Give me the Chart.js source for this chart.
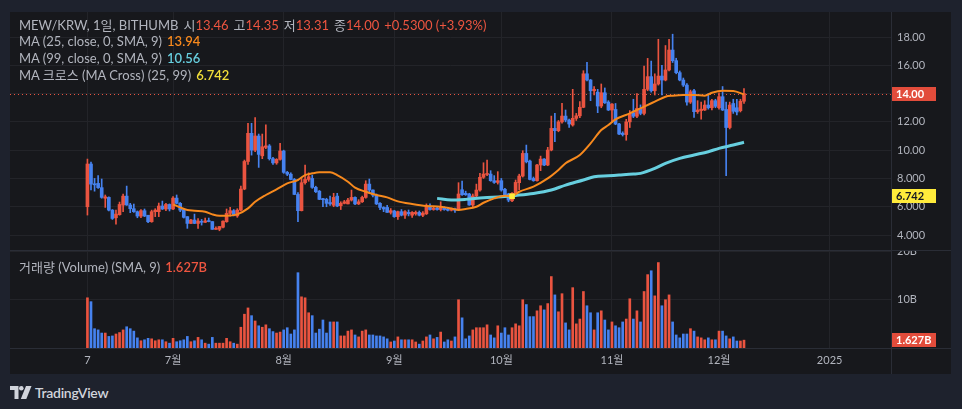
<!DOCTYPE html>
<html lang="ko">
<head>
<meta charset="UTF-8">
<title>MEW/KRW, 1일, BITHUMB</title>
<script src="https://cdnjs.cloudflare.com/ajax/libs/Chart.js/4.4.0/chart.umd.min.js"></script>
<style>
    html, body { margin: 0; padding: 0; }
    body {
        width: 962px; height: 409px; overflow: hidden; position: relative;
        background: #1e222d;
        font-family: Lato, 'Noto Sans CJK KR', sans-serif;
    }
    #panel { position: absolute; left: 10px; top: 12px; width: 941px; height: 362px; background: #17181c; }
    #priceChart { position: absolute; left: 0; top: 0; }
    #volumeChart { position: absolute; left: 0; top: 238px; }
    .sep-h { position: absolute; left: 0; width: 941px; height: 1px; background: #2a2d36; }
    .sep-v { position: absolute; left: 881px; top: 0; width: 1px; height: 362px; background: #2a2d36; }
    .legend { position: absolute; left: 9px; font-size: 13px; line-height: 17px; color: #b2b5be; white-space: nowrap; }
    .legend b { font-weight: 600; }
    .up { color: #ee5540; }
    .ma25 { color: #f7891d; }
    .ma99 { color: #67cfdf; }
    .cross { color: #f3df3a; }
    .gap { margin-left: 5px; }
    #logo { position: absolute; left: 10px; top: 384px; display: flex; align-items: center; color: #d1d4dc; font-size: 14px; font-weight: 600; letter-spacing: -0.3px; }
    #logo svg { margin-right: 3px; }
</style>
</head>
<body>
<div id="panel">
    <canvas id="priceChart" width="941" height="238"></canvas>
    <canvas id="volumeChart" width="941" height="124"></canvas>
    <div class="sep-h" style="top:238px"></div>
    <div class="sep-h" style="top:336px"></div>
    <div class="sep-v"></div>

    <div class="legend" style="top:5px">MEW/KRW, 1일, BITHUMB<span class="gap">시</span><span class="up">13.46</span><span class="gap">고</span><span class="up">14.35</span><span class="gap">저</span><span class="up">13.31</span><span class="gap">종</span><span class="up">14.00</span><span class="gap up">+0.5300 (+3.93%)</span></div>
    <div class="legend" style="top:21px">MA (25, close, 0, SMA, 9)<b class="gap ma25">13.94</b></div>
    <div class="legend" style="top:38px">MA (99, close, 0, SMA, 9)<b class="gap ma99">10.56</b></div>
    <div class="legend" style="top:55px">MA 크로스 (MA Cross) (25, 99)<b class="gap cross">6.742</b></div>
    <div class="legend" style="top:247px">거래량 (Volume) (SMA, 9)<b class="gap up">1.627B</b></div>
</div>
<div id="logo">
    <svg width="22" height="13" viewBox="0 0 22 13"><path d="M0 0h8.5v13H4.5V4H0z" fill="#d1d4dc"/><circle cx="11.3" cy="2.3" r="2.3" fill="#d1d4dc"/><path d="M16 0h5.5l-5.2 13h-5.5z" fill="#d1d4dc"/></svg>
    <span>TradingView</span>
</div>

<script>
    // time axis: day 0 = 7 June, one unit per day
    const tickDays = [0, 24, 55, 86, 116, 147, 177, 208];
    const tickLabels = ['7', '7월', '8월', '9월', '10월', '11월', '12월', '2025'];
    const priceTicks = [4, 6, 8, 10, 12, 14, 16, 18];
    const volumeTicks = [10, 20];

    // daily candles (KRW)
    const opens = [
        6.0, 9.02, 7.6, 7.65, 7.35, 6.6, 6.66, 5.76, 5.22, 5.44,
        6.12, 6.75, 6.12, 5.86, 5.65, 5.34, 5.72, 5.4, 4.94, 5.65,
        5.65, 6.05, 5.84, 6.16, 5.84, 6.61, 6.24, 5.8, 5.3, 4.82,
        5.06, 4.82, 4.95, 4.9, 5.0, 4.95, 4.4, 4.4, 4.55, 4.94,
        5.53, 5.72, 5.35, 5.76, 7.25, 9.2, 11.19, 10.0, 11.0, 9.6,
        10.2, 10.3, 9.4, 9.1, 9.35, 9.94, 8.43, 8.3, 7.93, 6.87,
        5.72, 7.7, 7.93, 8.0, 7.37, 7.1, 6.55, 6.52, 6.3, 6.1,
        6.75, 6.07, 6.24, 6.2, 6.47, 6.66, 6.2, 6.35, 6.66, 7.6,
        7.18, 6.82, 6.24, 5.95, 5.95, 5.6, 5.7, 5.3, 5.65, 5.4,
        5.6, 5.4, 5.5, 5.6, 5.4, 5.5, 6.05, 5.8, 5.9, 5.8,
        5.95, 5.85, 5.75, 5.85, 5.8, 7.2, 6.95, 6.9, 6.12, 6.76,
        7.18, 8.08, 8.28, 8.31, 7.84, 7.72, 7.84, 7.23, 6.9, 6.42,
        6.95, 7.7, 8.17, 9.77, 9.23, 8.0, 7.84, 8.95, 9.37, 8.95,
        10.01, 11.54, 11.38, 12.0, 12.41, 12.13, 11.78, 12.25, 12.43, 13.03,
        15.4, 14.96, 14.2, 14.1, 13.12, 14.06, 13.4, 12.84, 12.88, 11.85,
        11.2, 11.1, 12.0, 12.65, 12.4, 12.95, 12.6, 14.3, 15.2, 14.2,
        14.68, 15.24, 14.96, 15.67, 17.08, 16.33, 15.48, 14.96, 14.6, 13.4,
        14.2, 12.72, 12.8, 12.84, 13.19, 13.0, 13.5, 13.0, 13.78, 12.88,
        11.6, 13.3, 13.0, 12.79, 13.46
    ];
    const highs = [
        9.37, 9.16, 8.0, 8.2, 7.96, 6.83, 6.7, 5.8, 5.76, 6.33,
        6.9, 7.46, 6.24, 6.19, 5.7, 5.8, 5.84, 5.4, 5.76, 5.86,
        6.26, 6.4, 6.24, 6.2, 6.71, 6.83, 6.3, 5.85, 5.3, 5.1,
        5.48, 5.17, 5.1, 5.2, 5.2, 4.95, 4.58, 4.6, 5.0, 5.84,
        5.95, 5.8, 5.86, 7.46, 9.3, 11.9, 11.9, 12.3, 11.14, 11.14,
        11.8, 10.4, 9.5, 9.4, 10.48, 10.0, 8.5, 8.4, 8.0, 7.0,
        8.0, 8.95, 8.4, 8.24, 7.45, 7.15, 6.6, 6.6, 6.75, 6.95,
        6.95, 6.35, 6.45, 6.6, 7.18, 6.7, 6.5, 6.75, 7.84, 7.96,
        7.2, 6.9, 6.3, 6.0, 6.1, 5.87, 5.75, 5.7, 5.8, 5.72,
        5.77, 5.65, 5.7, 5.7, 5.65, 6.2, 6.2, 6.0, 5.95, 6.35,
        6.0, 5.9, 5.9, 5.9, 7.7, 7.82, 7.1, 6.95, 6.9, 7.6,
        8.36, 9.11, 9.3, 8.55, 8.2, 8.48, 8.0, 7.3, 6.95, 7.0,
        7.89, 8.3, 9.96, 10.36, 9.3, 8.1, 9.0, 9.58, 9.4, 10.2,
        12.41, 12.6, 12.1, 13.31, 12.84, 12.2, 14.3, 12.6, 13.43, 15.62,
        16.21, 15.0, 14.5, 14.3, 14.68, 14.4, 13.5, 13.3, 13.3, 11.9,
        11.3, 12.18, 12.8, 13.6, 14.0, 13.2, 15.95, 16.49, 16.3, 15.4,
        17.84, 16.0, 17.4, 17.84, 18.2, 16.5, 15.6, 15.1, 14.7, 14.25,
        14.3, 13.5, 13.4, 13.5, 14.0, 13.6, 13.6, 14.06, 14.5, 13.4,
        13.4, 13.6, 13.6, 13.6, 14.35
    ];
    const lows = [
        5.41, 7.18, 7.1, 7.3, 6.6, 5.95, 5.7, 5.1, 4.77, 5.4,
        5.65, 6.1, 5.58, 5.6, 5.22, 5.22, 5.3, 4.87, 4.9, 5.3,
        5.3, 5.8, 5.72, 5.7, 5.8, 6.2, 5.65, 5.2, 4.47, 4.8,
        4.8, 4.47, 4.7, 4.88, 4.93, 4.4, 4.4, 4.3, 4.5, 4.9,
        5.34, 5.35, 5.25, 5.7, 7.2, 9.0, 9.65, 9.9, 8.78, 9.4,
        10.1, 9.3, 9.0, 9.0, 9.3, 8.36, 8.2, 7.9, 6.85, 4.94,
        5.7, 7.6, 7.8, 7.3, 7.0, 6.5, 6.0, 6.0, 6.1, 6.0,
        6.0, 5.8, 6.2, 6.2, 6.4, 6.15, 6.15, 6.3, 6.6, 6.94,
        6.7, 6.15, 5.8, 5.65, 5.6, 5.48, 5.25, 5.1, 5.35, 5.18,
        5.35, 5.25, 5.4, 5.35, 5.3, 5.45, 5.75, 5.75, 5.75, 5.7,
        5.75, 5.7, 5.7, 5.6, 5.75, 6.8, 6.8, 6.1, 6.0, 6.7,
        7.1, 8.0, 8.2, 7.8, 7.65, 7.6, 7.1, 6.8, 6.35, 6.35,
        6.9, 7.2, 8.1, 9.1, 7.9, 7.8, 7.8, 8.55, 8.9, 8.9,
        9.95, 10.6, 11.3, 11.9, 12.0, 11.6, 11.7, 12.1, 12.3, 13.0,
        14.9, 13.5, 13.9, 12.65, 13.0, 13.3, 12.8, 12.0, 11.8, 11.1,
        11.0, 10.7, 11.6, 12.3, 12.3, 12.5, 12.5, 14.2, 14.1, 13.9,
        14.6, 13.9, 14.9, 15.6, 16.2, 15.4, 14.9, 14.5, 13.19, 13.3,
        12.32, 12.6, 12.2, 12.8, 12.9, 12.84, 13.0, 12.9, 12.8, 8.2,
        11.5, 12.6, 12.5, 12.7, 13.31
    ];
    const closes = [
        9.02, 7.6, 7.55, 7.35, 6.66, 6.7, 5.76, 5.17, 5.48, 6.16,
        6.75, 6.12, 5.86, 5.65, 5.34, 5.72, 5.34, 4.94, 5.65, 5.76,
        6.05, 5.84, 6.16, 5.84, 6.61, 6.24, 5.76, 5.25, 4.82, 5.06,
        4.82, 4.99, 4.9, 5.0, 4.95, 4.4, 4.47, 4.6, 4.98, 5.53,
        5.72, 5.4, 5.76, 7.25, 9.2, 11.19, 10.0, 11.0, 9.7, 10.24,
        10.3, 9.4, 9.1, 9.35, 9.94, 8.43, 8.3, 7.93, 6.87, 5.72,
        7.7, 7.93, 8.12, 7.37, 7.06, 6.52, 6.5, 6.24, 6.2, 6.66,
        6.05, 6.24, 6.35, 6.47, 6.66, 6.2, 6.35, 6.66, 7.6, 7.18,
        6.82, 6.2, 5.95, 5.84, 5.6, 5.72, 5.3, 5.65, 5.4, 5.65,
        5.5, 5.6, 5.6, 5.4, 5.55, 6.05, 5.8, 5.9, 5.8, 5.95,
        5.8, 5.75, 5.85, 5.75, 6.9, 6.85, 6.85, 6.12, 6.76, 7.18,
        8.08, 8.31, 8.31, 7.84, 7.72, 7.84, 7.18, 6.83, 6.47, 6.95,
        7.72, 8.17, 9.77, 9.18, 7.93, 7.84, 8.95, 9.37, 8.95, 10.01,
        11.54, 11.38, 12.0, 12.41, 12.13, 11.85, 12.25, 12.43, 13.03, 15.4,
        14.96, 14.2, 14.3, 13.12, 14.06, 13.35, 12.84, 13.26, 11.85, 11.14,
        11.1, 12.0, 12.6, 12.4, 12.95, 12.6, 14.3, 15.2, 14.2, 14.68,
        15.24, 14.96, 15.67, 17.08, 16.33, 15.48, 14.96, 14.6, 13.4, 14.13,
        12.72, 12.84, 12.9, 13.19, 13.0, 13.5, 13.1, 13.78, 12.84, 11.6,
        13.19, 12.75, 12.7, 13.46, 14.0
    ];
    // daily volume, billions
    const volumes = [
        10.4, 9.6, 4.0, 3.75, 3.1, 3.1, 2.4, 2.5, 2.9, 3.2,
        3.75, 4.4, 4.0, 3.5, 2.1, 1.5, 1.7, 2.0, 1.9, 1.5,
        1.7, 1.7, 1.3, 1.0, 2.0, 1.3, 1.5, 1.7, 2.4, 1.3,
        1.5, 2.2, 1.7, 1.0, 0.8, 2.2, 1.0, 1.0, 1.0, 2.0,
        1.3, 1.0, 0.8, 4.3, 7.0, 8.3, 6.7, 5.6, 4.6, 4.3,
        4.8, 4.0, 3.4, 3.1, 3.3, 3.75, 4.2, 2.9, 3.75, 15.6,
        10.6, 10.4, 7.3, 6.7, 3.1, 3.9, 5.8, 3.1, 5.4, 5.4,
        5.4, 2.5, 2.5, 3.5, 3.75, 2.7, 2.3, 3.5, 3.75, 2.7,
        2.7, 2.5, 2.5, 2.3, 1.9, 1.25, 1.45, 2.3, 1.7, 1.7,
        1.7, 1.7, 1.25, 0.8, 1.45, 2.3, 2.7, 1.9, 2.2, 3.3,
        1.25, 1.7, 1.45, 2.3, 10.0, 6.25, 1.9, 2.5, 3.75, 4.2,
        4.2, 4.2, 4.8, 2.7, 2.1, 4.6, 3.1, 4.2, 2.7, 4.2,
        5.0, 4.6, 10.0, 9.0, 6.5, 6.5, 7.7, 8.75, 7.9, 9.2,
        14.8, 11.0, 7.5, 11.25, 5.2, 3.75, 12.5, 5.0, 6.0, 11.7,
        8.75, 7.3, 3.75, 7.3, 7.7, 5.8, 3.75, 5.4, 4.6, 4.2,
        5.4, 6.0, 10.2, 6.0, 7.7, 5.4, 11.7, 15.2, 16.0, 10.8,
        17.7, 8.75, 10.0, 11.0, 5.4, 2.7, 2.1, 2.9, 2.9, 4.0,
        3.5, 2.3, 2.1, 1.7, 2.1, 1.7, 1.7, 3.5, 3.5, 2.5,
        1.9, 2.3, 1.45, 1.45, 1.627
    ];

    // moving averages
    const ma25Days = [24, 26, 28, 30, 33, 35, 37, 39, 42, 45, 47, 50, 53, 56, 59, 61, 63, 65, 68, 70,
        73, 75, 78, 81, 84, 87, 91, 95, 99, 102, 104, 106, 109, 111, 114, 117, 119, 121, 125, 129,
        132, 134, 138, 141, 144, 146, 148, 152, 155, 159, 162, 164, 167, 170, 173, 175, 178, 181, 184];
    const ma25Values = [6.17, 5.95, 5.77, 5.72, 5.65, 5.46, 5.36, 5.36, 5.46, 5.88, 6.35, 6.83, 7.23, 7.65, 7.89, 8.24, 8.36, 8.43, 8.43, 8.24,
        7.77, 7.35, 7.06, 6.83, 6.66, 6.38, 6.19, 6.05, 6.0, 5.88, 5.77, 5.84, 6.0, 6.28, 6.59, 6.78, 6.75, 7.06, 7.42, 8.0,
        8.6, 9.07, 9.66, 10.48, 11.42, 11.78, 12.18, 12.6, 12.96, 13.43, 13.78, 13.85, 13.9, 13.9, 13.85, 14.06, 14.2, 14.18, 13.94];
    const ma99Days = [98, 102, 106, 111, 116, 120, 125, 130, 134, 139, 142, 146, 149, 153, 155, 159, 162, 166, 170, 174, 177, 181, 184];
    const ma99Values = [6.59, 6.47, 6.52, 6.64, 6.71, 6.8, 6.94, 7.18, 7.53, 7.89, 8.12, 8.19, 8.24, 8.31, 8.36, 8.71, 9.07, 9.42, 9.66, 9.89, 10.13, 10.36, 10.56];
    const crossDay = 119;
    const crossValue = 6.742;

    const UP = '#ea5440';
    const DOWN = '#4682ef';
    const TEXT = '#b2b5be';
    const GRID = '#232429';
    const X_MIN = -21.7, X_MAX = 225.2;
    const tickFont = { family: "Lato, 'Noto Sans CJK KR', sans-serif", size: 11 };

    const candleColors = closes.map((c, i) => c >= opens[i] ? UP : DOWN);
    const lastClose = closes[closes.length - 1];
    const lastVolume = volumes[volumes.length - 1];

    function xAxis(showLabels) {
        return {
            type: 'linear', min: X_MIN, max: X_MAX, offset: false,
            afterBuildTicks: s => { s.ticks = tickDays.map(v => ({ value: v })); },
            afterFit: s => { s.height = showLabels ? 26 : 0; s.paddingLeft = 0; s.paddingRight = 0; },
            grid: { color: GRID, drawTicks: false, offset: false },
            border: { display: false },
            ticks: {
                display: showLabels, autoSkip: false, maxRotation: 0, padding: 6,
                color: TEXT, font: tickFont,
                callback: (v, i) => tickLabels[i]
            }
        };
    }

    function yAxis(min, max, ticks, fmt) {
        return {
            position: 'right', min: min, max: max,
            afterBuildTicks: s => { s.ticks = ticks.map(v => ({ value: v })); },
            afterFit: s => { s.width = 60; s.paddingTop = 0; s.paddingBottom = 0; },
            grid: { color: GRID, drawTicks: false },
            border: { display: false },
            ticks: { padding: 6, color: TEXT, font: tickFont, callback: fmt }
        };
    }

    // value tag on the right axis
    function drawTag(chart, scaleId, value, text, bg, fg) {
        const ctx = chart.ctx;
        const y = chart.scales[scaleId].getPixelForValue(value);
        const x = chart.chartArea.right;
        ctx.save();
        ctx.fillStyle = bg;
        ctx.fillRect(x, Math.round(y) - 7, 45, 14);
        ctx.fillStyle = fg;
        ctx.font = "bold 11px Lato, sans-serif";
        ctx.textBaseline = 'middle';
        ctx.fillText(text, x + 5, Math.round(y) + 0.5);
        ctx.restore();
    }

    const pricePlugin = {
        id: 'priceExtras',
        beforeDatasetsDraw(chart) {
            const ctx = chart.ctx, a = chart.chartArea;
            const y = Math.round(chart.scales.y.getPixelForValue(lastClose)) + 0.5;
            ctx.save();
            ctx.strokeStyle = UP;
            ctx.lineWidth = 1;
            ctx.setLineDash([1, 3]);
            ctx.beginPath();
            ctx.moveTo(a.left, y);
            ctx.lineTo(a.right, y);
            ctx.stroke();
            ctx.restore();
        },
        afterDraw(chart) {
            drawTag(chart, 'y', lastClose, lastClose.toFixed(2), '#e24c3b', '#ffffff');
            drawTag(chart, 'y', crossValue, crossValue.toFixed(3), '#ffeb3b', '#131722');
        }
    };

    const volumePlugin = {
        id: 'volumeExtras',
        afterDraw(chart) {
            drawTag(chart, 'y', lastVolume, lastVolume.toFixed(3) + 'B', '#e24c3b', '#ffffff');
        }
    };

    new Chart(document.getElementById('priceChart'), {
        type: 'bar',
        data: {
            datasets: [
                {
                    type: 'line', label: 'MA Cross', order: 0,
                    data: [{ x: crossDay, y: crossValue }],
                    showLine: false, pointStyle: 'rect', pointRadius: 4,
                    pointBackgroundColor: '#ffeb3b', pointBorderWidth: 0
                },
                {
                    type: 'line', label: 'MA 25', order: 1,
                    data: ma25Days.map((d, i) => ({ x: d, y: ma25Values[i] })),
                    borderColor: '#f7891d', borderWidth: 2, pointRadius: 0,
                    cubicInterpolationMode: 'monotone'
                },
                {
                    type: 'line', label: 'MA 99', order: 1,
                    data: ma99Days.map((d, i) => ({ x: d, y: ma99Values[i] })),
                    borderColor: '#67cfdf', borderWidth: 3, pointRadius: 0,
                    cubicInterpolationMode: 'monotone'
                },
                {
                    label: 'wick', order: 3, grouped: false,
                    data: closes.map((c, i) => ({ x: i, y: [lows[i], highs[i]] })),
                    backgroundColor: candleColors, barThickness: 1, borderWidth: 0
                },
                {
                    label: 'body', order: 2, grouped: false,
                    data: closes.map((c, i) => ({ x: i, y: [opens[i], c] })),
                    backgroundColor: candleColors, barThickness: 3, minBarLength: 1, borderWidth: 0
                }
            ]
        },
        options: {
            responsive: false,
            animation: false,
            layout: { padding: 0, autoPadding: false },
            plugins: { legend: { display: false }, tooltip: { enabled: false } },
            scales: {
                x: xAxis(false),
                y: yAxis(2.94, 19.77, priceTicks, v => v >= 10 ? v.toFixed(2) : v.toFixed(3))
            }
        },
        plugins: [pricePlugin]
    });

    new Chart(document.getElementById('volumeChart'), {
        type: 'bar',
        data: {
            datasets: [{
                label: 'Volume', grouped: false,
                data: volumes.map((v, i) => ({ x: i, y: v })),
                backgroundColor: candleColors, barThickness: 2, borderWidth: 0
            }]
        },
        options: {
            responsive: false,
            animation: false,
            layout: { padding: 0, autoPadding: false },
            plugins: { legend: { display: false }, tooltip: { enabled: false } },
            scales: {
                x: xAxis(true),
                y: yAxis(0, 20.3, volumeTicks, v => v + 'B')
            }
        },
        plugins: [volumePlugin]
    });
</script>
</body>
</html>
